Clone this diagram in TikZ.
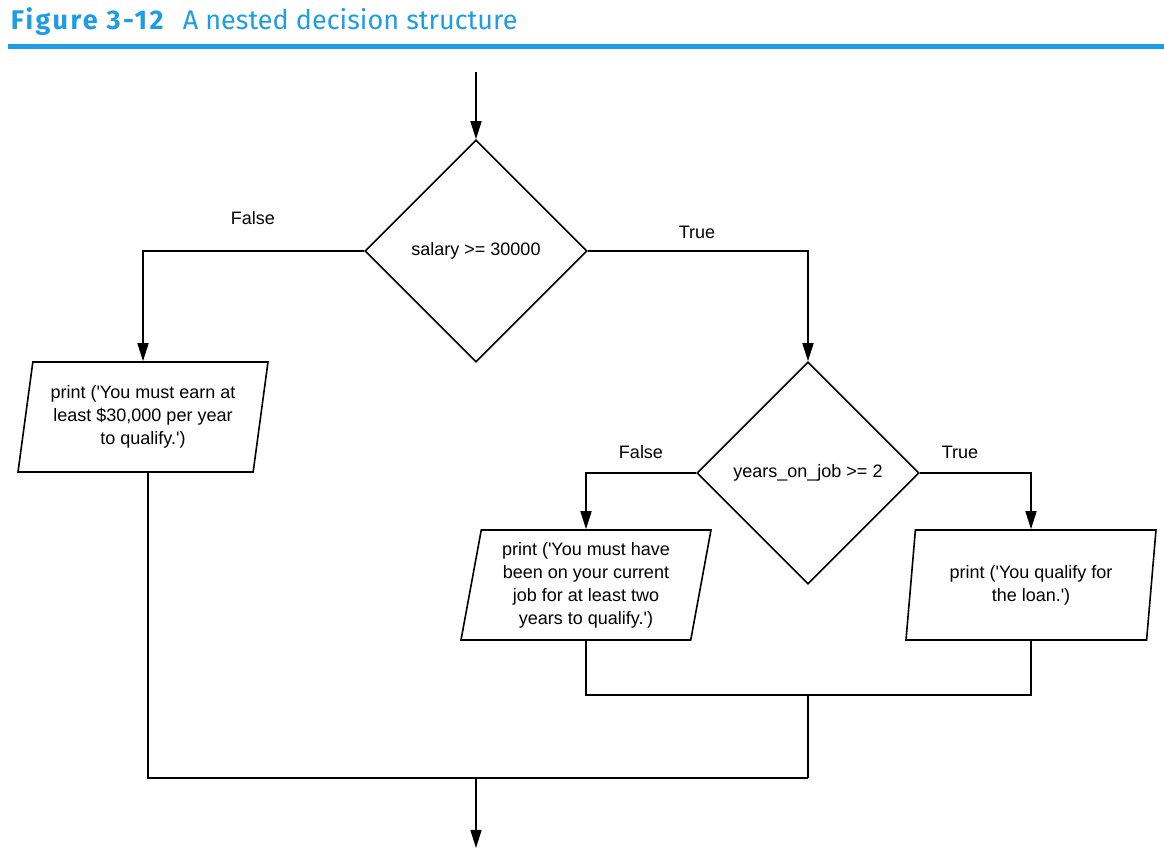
\documentclass[tikz,border=0pt]{standalone}
\usepackage{fontspec}
\usepackage{tikz}
\usetikzlibrary{shapes.geometric,arrows.meta}
\newfontfamily\flowfont{Liberation Sans}
\newfontfamily\headfont{Fira Sans}
\definecolor{headblue}{RGB}{28,157,230}
\newcommand\sq{\textquotesingle}

\begin{document}
\begin{tikzpicture}[x=0.5pt,y=-0.5pt,
  line width=0.8pt,
  every node/.style={font=\flowfont\fontsize{9}{11.5}\selectfont},
  arr/.style={-{Triangle[length=9pt,width=5.5pt]}},
  decision/.style={draw,diamond,aspect=1,inner sep=0pt,minimum width=111pt,minimum height=111pt},
  output/.style={draw,trapezium,trapezium left angle=76.7,trapezium right angle=103.3,
    trapezium stretches body,minimum width=125pt,minimum height=55pt,inner sep=0pt,align=center}]
\useasboundingbox (0,0) rectangle (1164,855);

% heading
\node[anchor=base west,font=\headfont\bfseries\fontsize{13.5}{16}\selectfont\addfontfeature{LetterSpace=9},text=headblue,inner sep=0pt] (fig) at (10,30) {Figure 3-12};
\node[anchor=base west,font=\headfont\fontsize{13.5}{16}\selectfont,text=headblue,inner sep=0pt] (cap) at (182,30) {A nested decision structure};
\draw[headblue,line width=2.5pt] (8,47) -- (1164,47);

% decisions
\node[decision] (d1) at (476,251) {salary >= 30000};
\node[decision] (d2) at (808,473) {years\_on\_job >= 2};

% outputs
\node[output] (p1) at (143,417) {print (\sq You must earn at\\least \$30,000 per year\\to qualify.\sq)};
\node[output] (p2) at (586,585) {print (\sq You must have\\been on your current\\job for at least two\\years to qualify.\sq)};
\node[output] (p3) at (1031,585) {print (\sq You qualify for\\the loan.\sq)};

% branch labels
\node (f1) at (253,218) {False};
\node (t1) at (697,232) {True};
\node (f2) at (641,452) {False};
\node (t2) at (960,452) {True};

% flow lines
\coordinate (in) at (476,72);
\coordinate (p1out) at ([xshift=2.5pt]p1.south);
\coordinate (j2) at (808,695);
\coordinate (j1) at (808,778);
\coordinate (out) at (476,848);
\draw[arr] (in) -- (d1.north);
\draw[arr] (d1.west) -| (p1.north);
\draw[arr] (d1.east) -| (d2.north);
\draw[arr] (d2.west) -| (p2.north);
\draw[arr] (d2.east) -| (p3.north);
\draw (p2.south) |- (j2) -| (p3.south);
\draw (j2) -- (j1);
\draw (p1out) |- (j1);
\draw[arr] (out |- j1) -- (out);

\end{tikzpicture}
\end{document}
